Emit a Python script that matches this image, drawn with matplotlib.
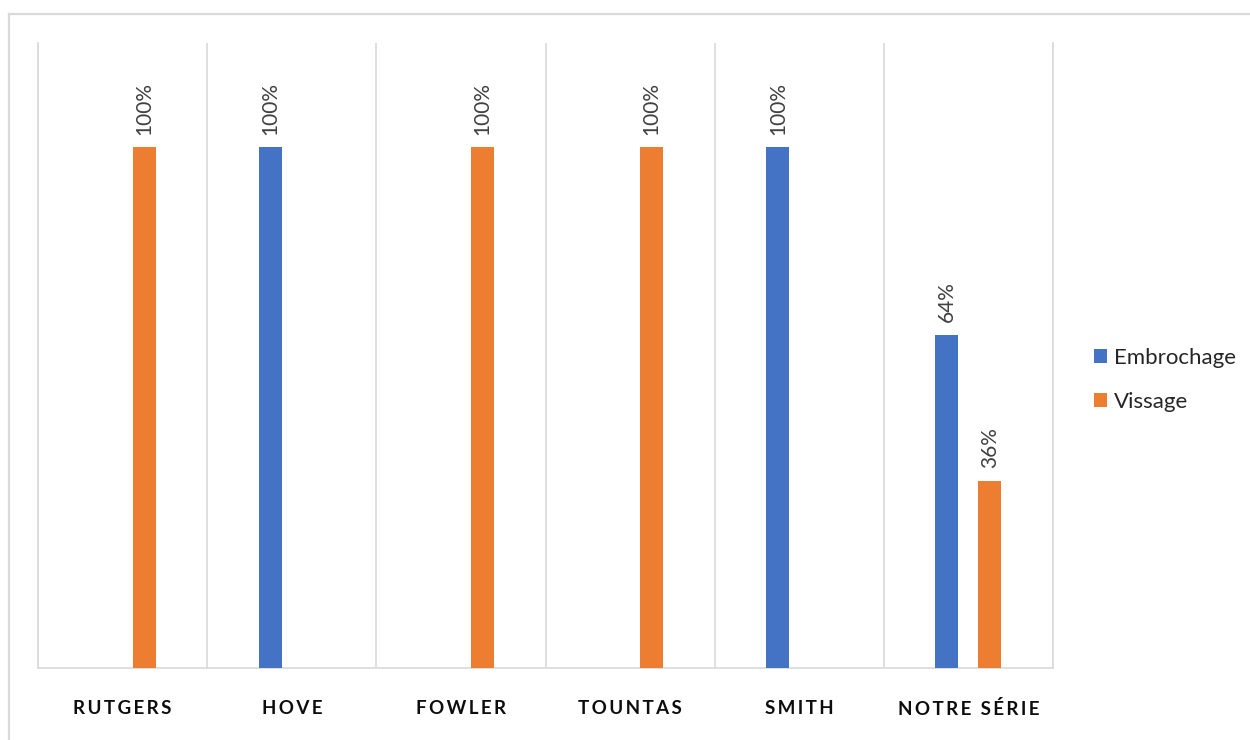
import matplotlib
matplotlib.use("Agg")
import matplotlib.pyplot as plt
from matplotlib.lines import Line2D
import numpy as np

plt.rcParams['font.family'] = ['Lato', 'DejaVu Sans']

categories = ["RUTGERS", "HOVE", "FOWLER", "TOUNTAS", "SMITH", "NOTRE SÉRIE"]
embrochage = [0, 100, 0, 0, 100, 64]
vissage = [100, 0, 100, 100, 0, 36]
series_names = ["Embrochage", "Vissage"]
colors = ["#4472C4", "#ED7D31"]


def tracked(text):
    """Spread the letters of a category name apart (wide letter spacing)."""
    return "\u2009 \u2009".join("\u2009".join(word) for word in text.split(" "))


W, H = 1250, 740
fig = plt.figure(figsize=(W / 100, H / 100), dpi=100)

# outer chart frame (left and top edges)
frame_col = "#D9D9D9"
fig.add_artist(Line2D([8.5 / W, 8.5 / W], [0, 1 - 13.5 / H], transform=fig.transFigure,
                      color=frame_col, lw=1.6))
fig.add_artist(Line2D([8.5 / W, 1], [1 - 13.5 / H, 1 - 13.5 / H], transform=fig.transFigure,
                      color=frame_col, lw=1.6))

left, right, top, bottom = 38, 1053, 43, 668
ax = fig.add_axes([left / W, 1 - bottom / H, (right - left) / W, (bottom - top) / H])

x = np.arange(len(categories))
width = 0.136
offset = 0.127

for vals, name, col, sign in zip([embrochage, vissage], series_names, colors, [-1, 1]):
    bars = ax.bar(x + sign * offset, vals, width, color=col, label=name, zorder=3)
    ax.bar_label(bars, labels=[f"{v}%" if v else "" for v in vals], rotation=90,
                 padding=9, fontsize=15, color="#404040")

ax.set_xlim(-0.5, len(categories) - 0.5)
ax.set_ylim(0, 120)
ax.set_yticks([])

# category separators
ax.set_xticks(np.arange(-0.5, len(categories)), minor=True)
ax.grid(which="minor", axis="x", color="#D9D9D9", lw=1.2, zorder=0)
ax.tick_params(axis="x", which="minor", length=0)

ax.set_xticks(x)
ax.set_xticklabels([tracked(c) for c in categories], fontsize=13.5,
                   fontweight="bold", color="#0D0D0D")
ax.tick_params(axis="x", which="major", length=0, pad=23)

for s in ["top"]:
    ax.spines[s].set_visible(False)
for s in ["left", "right", "bottom"]:
    ax.spines[s].set_color("#D9D9D9")
    ax.spines[s].set_linewidth(1.2)

handles, labels = ax.get_legend_handles_labels()
fig.legend(handles, labels, loc="center left", bbox_to_anchor=(1094 / W, 1 - 380 / H),
           borderaxespad=0, borderpad=0, frameon=False, fontsize=16,
           handlelength=0.6, handleheight=0.6, handletextpad=0.3, labelspacing=1.1,
           labelcolor="#262626")

fig.savefig("out.png", dpi=100, facecolor="white")
